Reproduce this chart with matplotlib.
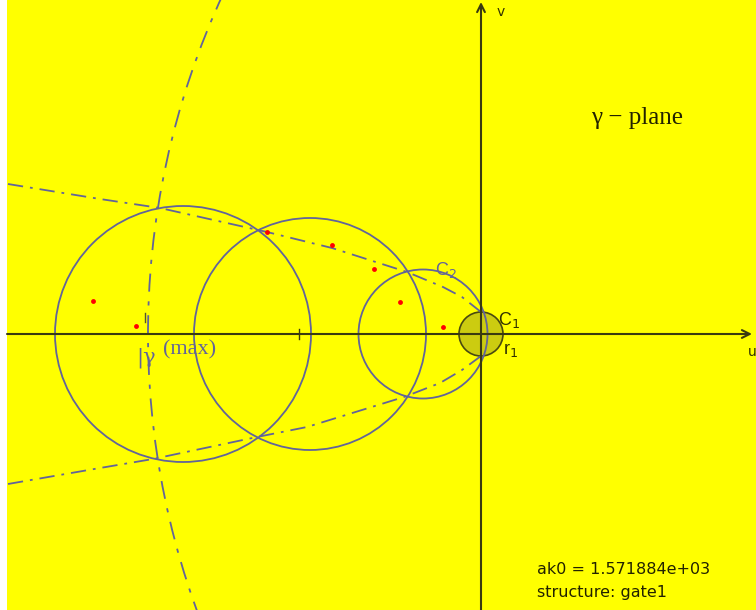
import matplotlib
matplotlib.use("Agg")
import matplotlib.pyplot as plt
from matplotlib.patches import Circle, Arc

plt.rcParams["lines.scale_dashes"] = False

# Circles in the gamma plane: centre (u, v) and radius
circle_u = [-2.98, -1.71, -0.58]
circle_v = [0.0, 0.0, 0.0]
circle_r = [1.28, 1.16, 0.645]

# Small shaded disc C1 at the origin
disc_u, disc_v, disc_r = 0.0, 0.0, 0.22

# Red points
pts_u = [-3.88, -3.45, -2.14, -1.49, -1.07, -0.81, -0.38]
pts_v = [0.33, 0.08, 1.02, 0.89, 0.65, 0.32, 0.07]

# Upper and lower envelope curves
upper_u = [-4.73, -3.81, -3.21, -2.14, -1.49, -0.74, -0.38, -0.19, 0.0]
upper_v = [1.50, 1.35, 1.26, 1.02, 0.86, 0.62, 0.47, 0.37, 0.22]
lower_u = [-4.73, -3.81, -3.28, -2.24, -1.74, -0.77, -0.41, -0.19, 0.0]
lower_v = [-1.50, -1.34, -1.25, -1.03, -0.93, -0.63, -0.49, -0.36, -0.22]

# |gamma| max arc: centre, radius, angular span (degrees)
arc_cu, arc_cv, arc_r = 4.74, 0.0, 8.07
arc_theta = (155.0, 206.0)

ak0_text = "ak0 = 1.571884e+03"
struct_text = "structure: gate1"

YELLOW = "#ffff00"
SLATE = "#62649a"
AXIS = "#3a3a10"

fig = plt.figure(figsize=(7.56, 6.10), dpi=100)
fig.patch.set_facecolor("white")
ax = fig.add_axes([7 / 756, 0, 749 / 756, 1])
ax.set_facecolor(YELLOW)
ax.set_xlim(-4.74, 2.75)
ax.set_ylim(-2.76, 3.34)
ax.set_aspect("equal")
ax.axis("off")
ax.add_patch(plt.Rectangle((-4.74, -2.76), 7.49, 6.10, color=YELLOW, zorder=0))

# shaded disc
ax.add_patch(Circle((disc_u, disc_v), disc_r, facecolor="#cccc10",
                    edgecolor="#4a4a10", lw=1.2, zorder=1))

# circles
for cu, cv, r in zip(circle_u, circle_v, circle_r):
    ax.add_patch(Circle((cu, cv), r, fill=False, edgecolor=SLATE, lw=1.3, zorder=2))

# envelope curves
dd = (0, (11, 5, 2, 5))
ax.plot(upper_u, upper_v, color=SLATE, lw=1.3, linestyle=dd, zorder=2)
ax.plot(lower_u, lower_v, color=SLATE, lw=1.3, linestyle=dd, zorder=2)

# |gamma| max arc
ax.add_patch(Arc((arc_cu, arc_cv), 2 * arc_r, 2 * arc_r, theta1=arc_theta[0],
                 theta2=arc_theta[1], edgecolor=SLATE, lw=1.3,
                 linestyle=(0, (13, 7, 3, 7)), zorder=2))

# red points
ax.plot(pts_u, pts_v, "o", color="red", ms=3.5, mec="none", zorder=4)

# axes with arrows
ax.annotate("", xy=(2.71, 0), xytext=(-4.74, 0),
            arrowprops=dict(arrowstyle="->", color=AXIS, lw=1.5,
                            mutation_scale=14, shrinkA=0, shrinkB=0), zorder=3)
ax.annotate("", xy=(0, 3.32), xytext=(0, -2.76),
            arrowprops=dict(arrowstyle="->", color=AXIS, lw=1.5,
                            mutation_scale=14, shrinkA=0, shrinkB=0), zorder=3)
ax.plot([-1.82, -1.82], [-0.05, 0.05], color=AXIS, lw=1.0, zorder=3)
ax.plot([-3.36, -3.36], [0.12, 0.21], color="#555533", lw=1.0, zorder=3)

# labels
serif = ["Liberation Serif", "DejaVu Serif"]
sans = ["DejaVu Sans"]
ax.text(1.10, 2.16, "\u03b3 \u2212 plane", family=serif, fontsize=18,
        ha="left", va="center", color="#222200")
ax.text(-3.45, -0.24, "|\u03b3", family=["DejaVu Serif"], fontsize=15, ha="left",
        va="center", color=SLATE)
ax.text(-3.18, -0.16, "(max)", family=serif, fontsize=16, ha="left",
        va="center", color=SLATE)
ax.text(-0.46, 0.59, "C$_2$", family=["Liberation Sans"], fontsize=13, ha="left",
        va="baseline", color=SLATE)
ax.text(0.17, 0.09, "C$_1$", family=["Liberation Sans"], fontsize=13, ha="left",
        va="baseline", color="#333300")
ax.text(0.22, -0.20, "r$_1$", family=["Liberation Sans"], fontsize=13, ha="left",
        va="baseline", color="#333300")
ax.text(0.16, 3.22, "v", family=sans, fontsize=10, ha="left",
        va="center", color="#333300")
ax.text(2.67, -0.18, "u", family=sans, fontsize=10, ha="left",
        va="center", color="#333300")
ax.text(0.56, -2.36, ak0_text, family=sans, fontsize=11.5, ha="left",
        va="center", color="#222200")
ax.text(0.56, -2.58, struct_text, family=sans, fontsize=11.5, ha="left",
        va="center", color="#222200")

fig.savefig("out.png", dpi=100, facecolor="white")
